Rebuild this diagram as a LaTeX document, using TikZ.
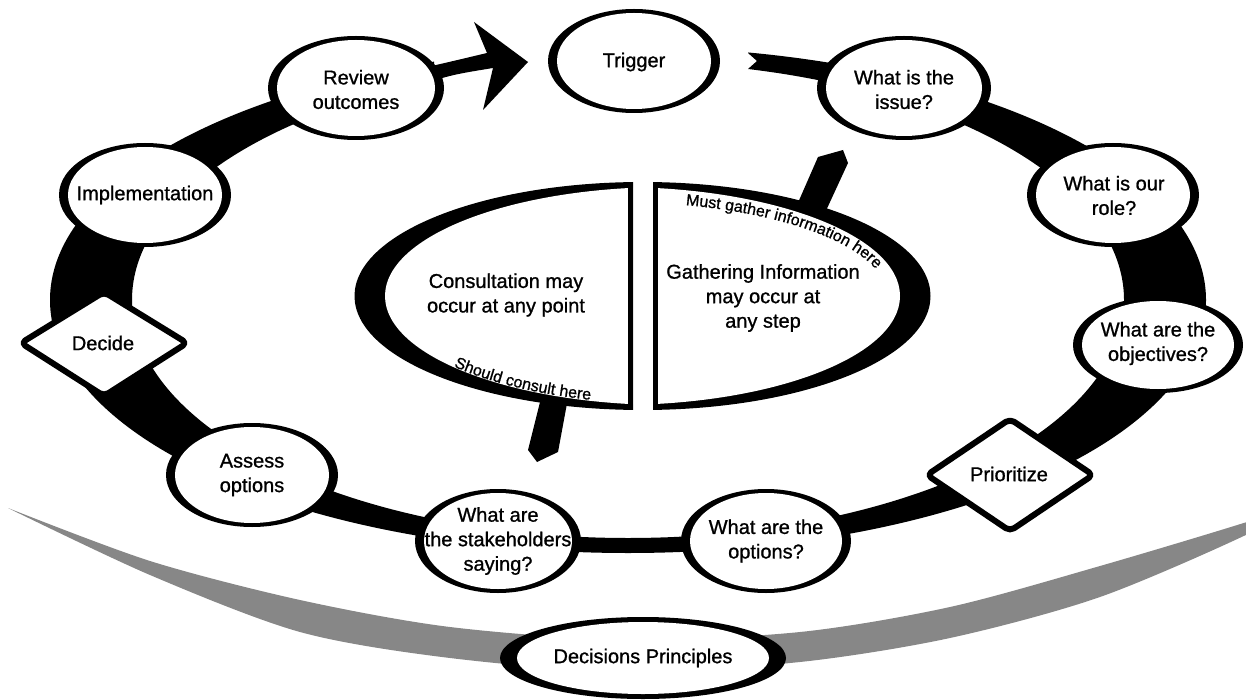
\documentclass[tikz,border=0pt]{standalone}
\usepackage{fontspec}
\setmainfont{Liberation Sans}
\newfontfamily\labelfamily{Liberation Sans}[FakeBold=1]
\usetikzlibrary{decorations.text}
\definecolor{bandgray}{HTML}{878787}
\newcommand\curvedtextfont{\labelfamily\fontsize{16}{19}\selectfont}
% black rim with a white centre: x, y, rx, ry
\newcommand\ringoval[4]{%
  \fill[black] (#1,#2) ellipse[x radius=#3, y radius=#4];
  \fill[white] (#1,#2) ellipse[x radius={#3-9}, y radius={#4-4}];}

\begin{document}
\begin{tikzpicture}[x=1pt,y=-1pt,
  lbl/.style={align=center, font=\labelfamily\fontsize{20}{24.5}\selectfont, inner sep=0pt},
  diamondbox/.style={draw=black, fill=white, line width=6pt, rounded corners=5pt, line join=round}]
\useasboundingbox (0,0) rectangle (1246,700);

% grey base band
\fill[bandgray] plot[smooth] coordinates {(8,508) (150,561) (300,600) (450,627) (627,640) (800,632) (950,607) (1100,566) (1250,521) (1290,505)}
  -- plot[smooth] coordinates {(1290,505) (1250,533) (1100,597) (950,638) (800,662) (627,672) (450,658) (300,632) (150,575) (8,508)} -- cycle;

% main cycle ring, open at the top
\begin{scope}
  \clip (-10,-10) -- (434,-10) -- (434,150) -- (748,150) -- (748,69) -- (757,61) -- (748,53) -- (748,-10)
        -- (1260,-10) -- (1260,720) -- (-10,720) -- cycle;
  \fill[even odd rule] (628,300) ellipse[x radius=578, y radius=253]
                       (628,300) ellipse[x radius=496, y radius=238];
\end{scope}

% arrow into the trigger
\fill (405,72) .. controls (445,63) .. (487,53) -- (474,22) -- (528,62) -- (483,110) -- (493,68)
      .. controls (450,75) .. (405,90) -- cycle;

% pointer bars of the two halves
\fill (797,205) -- (818,157) -- (843,150) -- (848,163) -- (824,215) -- cycle;
\fill (541,398) -- (528,450) -- (537,462) -- (558,452) -- (568,398) -- cycle;

% left half: consultation
\begin{scope}
  \clip (300,150) rectangle (633,450);
  \fill (642.5,296) ellipse[x radius=288, y radius=114];
  \fill[white] (668,296) ellipse[x radius=283, y radius=109];
\end{scope}
\draw[line width=5pt] (630.5,182) -- (630.5,410);
% right half: gathering information
\begin{scope}
  \clip (653,150) rectangle (1000,450);
  \fill (642.5,296) ellipse[x radius=288, y radius=114];
  \fill[white] (617,296) ellipse[x radius=283, y radius=109];
\end{scope}
\draw[line width=5pt] (655.5,182) -- (655.5,410);

\node[lbl] (consult) at (506,295) {Consultation may\\occur at any point};
\node[lbl] (gather) at (763,298) {Gathering Information\\may occur at\\any step};
\path[decorate, decoration={text along path, text align=center,
    text={|\curvedtextfont|Should consult here}}]
  plot[domain=0:46, samples=46, variable=\t] ({668+281*cos(147-\t)}, {298+106*sin(147-\t)});
\path[decorate, decoration={text along path, text align=center,
    text={|\curvedtextfont|Must gather information here}}]
  plot[domain=-78:-10, samples=68, variable=\t] ({617+270*cos(\t)}, {296+94*sin(\t)});

% steps of the cycle
\ringoval{634}{61}{86}{52}
\node[lbl] (trigger) at (634,62) {Trigger};
\ringoval{356}{88}{88}{52}
\node[lbl] (review) at (356,89.5) {Review\\outcomes};
\ringoval{904}{88}{87}{52}
\node[lbl] (issue) at (904,89.5) {What is the\\issue?};
\ringoval{1113}{195}{86}{52}
\node[lbl] (role) at (1114,195.5) {What is our\\role?};
\ringoval{1158}{345}{85}{48}
\node[lbl] (objectives) at (1158,343.5) {What are the\\objectives?};
\draw[diamondbox] (927,475) -- (1010,419) -- (1093,475) -- (1010,531) -- cycle;
\node[lbl] (prioritize) at (1009,474) {Prioritize};
\ringoval{766}{541}{85}{52}
\node[lbl] (options) at (766,541) {What are the\\options?};
\ringoval{498}{541}{83}{52}
\node[lbl] (stakeholders) at (498,541) {What are\\the stakeholders\\saying?};
\ringoval{252}{475}{86}{52}
\node[lbl] (assess) at (252,475) {Assess\\options};
\draw[diamondbox] (21,343) -- (104,292) -- (187,343) -- (104,396) -- cycle;
\node[lbl] (decide) at (103,343) {Decide};
\ringoval{145}{195}{86}{52}
\node[lbl] (implementation) at (145,195) {Implementation};

% decision principles on the base band
\fill (643,658) ellipse[x radius=143, y radius=41];
\fill[white] (643,658) ellipse[x radius=126, y radius=36];
\node[lbl] (principles) at (643,658) {Decisions Principles};
\end{tikzpicture}
\end{document}
